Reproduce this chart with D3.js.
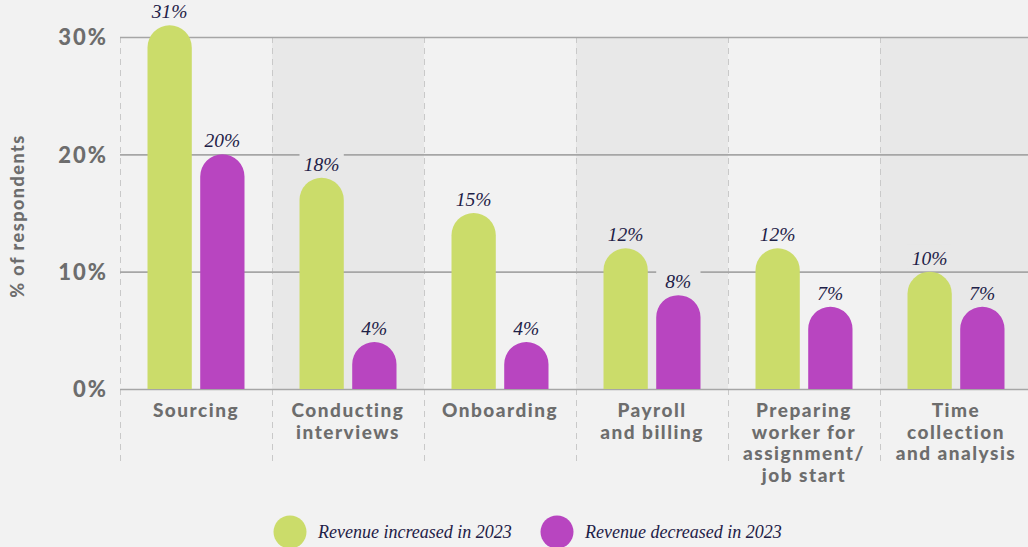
<!DOCTYPE html>
<html>
<head>
<meta charset="utf-8">
<script src="https://cdn.jsdelivr.net/npm/d3@7"></script>
<style>
  html, body { margin: 0; padding: 0; background: #f2f2f2; }
  svg { display: block; }
</style>
</head>
<body>
<svg id="chart" width="1028" height="547"></svg>
<script>
// Share of respondents by hiring-process stage, split by revenue outcome
const categories = [
  ["Sourcing"],
  ["Conducting", "interviews"],
  ["Onboarding"],
  ["Payroll", "and billing"],
  ["Preparing", "worker for", "assignment/", "job start"],
  ["Time", "collection", "and analysis"]
];
const seriesNames = ["Revenue increased in 2023", "Revenue decreased in 2023"];
const increased = [31, 18, 15, 12, 12, 10];
const decreased = [20, 4, 4, 8, 7, 7];
const yTicks = [0, 10, 20, 30];

const W = 1028, H = 547;
const margin = { left: 120, top: 37, bottom: 389 };
const colors = ["#cbdc6a", "#b845c0"];
const bgColor = "#f2f2f2", bandShade = "#e8e8e8";
const sans = "Lato, 'Open Sans', sans-serif";
const serif = "'Liberation Serif', 'DejaVu Serif', serif";

const svg = d3.select("#chart");
svg.append("rect").attr("width", W).attr("height", H).attr("fill", bgColor);

const keys = categories.map(c => c.join(" "));
const x = d3.scaleBand().domain(keys).range([120, 1032]).paddingInner(0).paddingOuter(0);
const groupW = 97;
const xSub = d3.scaleBand().domain(d3.range(seriesNames.length)).range([0, groupW]).paddingInner(0.16);
const y = d3.scaleLinear().domain([0, 30]).range([margin.bottom, margin.top]);

// alternating band shading
svg.append("g").selectAll("rect")
  .data(keys.filter((d, i) => i % 2 === 1))
  .join("rect")
  .attr("x", d => x(d))
  .attr("y", y(30))
  .attr("width", x.bandwidth())
  .attr("height", y(0) - y(30))
  .attr("fill", bandShade);

// dashed separators between categories
svg.append("g").selectAll("line")
  .data(keys)
  .join("line")
  .attr("x1", d => x(d) + 0.5).attr("x2", d => x(d) + 0.5)
  .attr("y1", y(30)).attr("y2", 463)
  .attr("stroke", "#c9c9c9")
  .attr("stroke-width", 1)
  .attr("stroke-dasharray", "6,5");

// y axis with gridlines
const yAxis = svg.append("g")
  .attr("transform", `translate(${margin.left},0)`)
  .call(d3.axisLeft(y).tickValues(yTicks).tickFormat(d => d + "%")
    .tickSize(-(W - margin.left)).tickPadding(12));
yAxis.select(".domain").remove();
yAxis.selectAll(".tick line").attr("stroke", "#a6a6a6").attr("stroke-width", 1.6);
yAxis.selectAll(".tick text")
  .attr("fill", "#6d6d6d")
  .attr("font-family", sans)
  .attr("font-weight", 900)
  .attr("font-size", 22)
  .attr("letter-spacing", 2)
  .attr("dy", "0.36em");

// y axis title
svg.append("text")
  .attr("transform", `translate(24,${(y(0) + y(30)) / 2 + 3}) rotate(-90)`)
  .attr("text-anchor", "middle")
  .attr("fill", "#6d6d6d")
  .attr("font-family", sans)
  .attr("font-weight", 900)
  .attr("font-size", 18)
  .attr("letter-spacing", 1.5)
  .text("% of respondents");

// bars
const rows = keys.map((k, i) => ({ key: k, idx: i, vals: [increased[i], decreased[i]] }));
const bw = xSub.bandwidth();
function barPath(x0, top, w, base) {
  const r = w / 2;
  return `M${x0},${base}V${top + r}A${r},${r} 0 0 1 ${x0 + w},${top + r}V${base}Z`;
}
const groups = svg.append("g").selectAll("g")
  .data(rows)
  .join("g")
  .attr("transform", d => `translate(${x(d.key) + (x.bandwidth() - groupW) / 2},0)`);

const cells = groups.selectAll("g")
  .data(d => d.vals.map((v, s) => ({ v, s, band: d.idx % 2 === 1 ? bandShade : bgColor })))
  .join("g");

cells.append("path")
  .attr("d", d => barPath(xSub(d.s), y(d.v), bw, y(0)))
  .attr("fill", d => colors[d.s]);

// value labels with a knock-out behind them
cells.append("rect")
  .attr("x", d => xSub(d.s))
  .attr("y", d => y(d.v) - 27)
  .attr("width", bw)
  .attr("height", 24)
  .attr("fill", d => d.band);

cells.append("text")
  .attr("x", d => xSub(d.s) + bw / 2)
  .attr("y", d => y(d.v) - 7)
  .attr("text-anchor", "middle")
  .attr("fill", "#1e2147")
  .attr("font-family", serif)
  .attr("font-style", "italic")
  .attr("font-size", 19.5)
  .text(d => d.v + "%");

// category labels
const xAxis = svg.append("g");
categories.forEach((lines, i) => {
  const t = xAxis.append("text")
    .attr("x", x(keys[i]) + x.bandwidth() / 2)
    .attr("y", 417)
    .attr("text-anchor", "middle")
    .attr("fill", "#6d6d6d")
    .attr("font-family", sans)
    .attr("font-weight", 900)
    .attr("font-size", 19)
    .attr("letter-spacing", 1.5);
  lines.forEach((ln, j) => {
    t.append("tspan")
      .attr("x", x(keys[i]) + x.bandwidth() / 2)
      .attr("dy", j === 0 ? 0 : 21.5)
      .text(ln);
  });
});

// legend
const legendItems = [
  { name: seriesNames[0], color: colors[0], cx: 290 },
  { name: seriesNames[1], color: colors[1], cx: 557 }
];
const legend = svg.append("g");
legendItems.forEach(it => {
  legend.append("circle").attr("cx", it.cx).attr("cy", 532).attr("r", 16.5).attr("fill", it.color);
  legend.append("text")
    .attr("x", it.cx + 28)
    .attr("y", 538)
    .attr("fill", "#1e2147")
    .attr("font-family", serif)
    .attr("font-style", "italic")
    .attr("font-size", 18)
    .text(it.name);
});
</script>
</body>
</html>
